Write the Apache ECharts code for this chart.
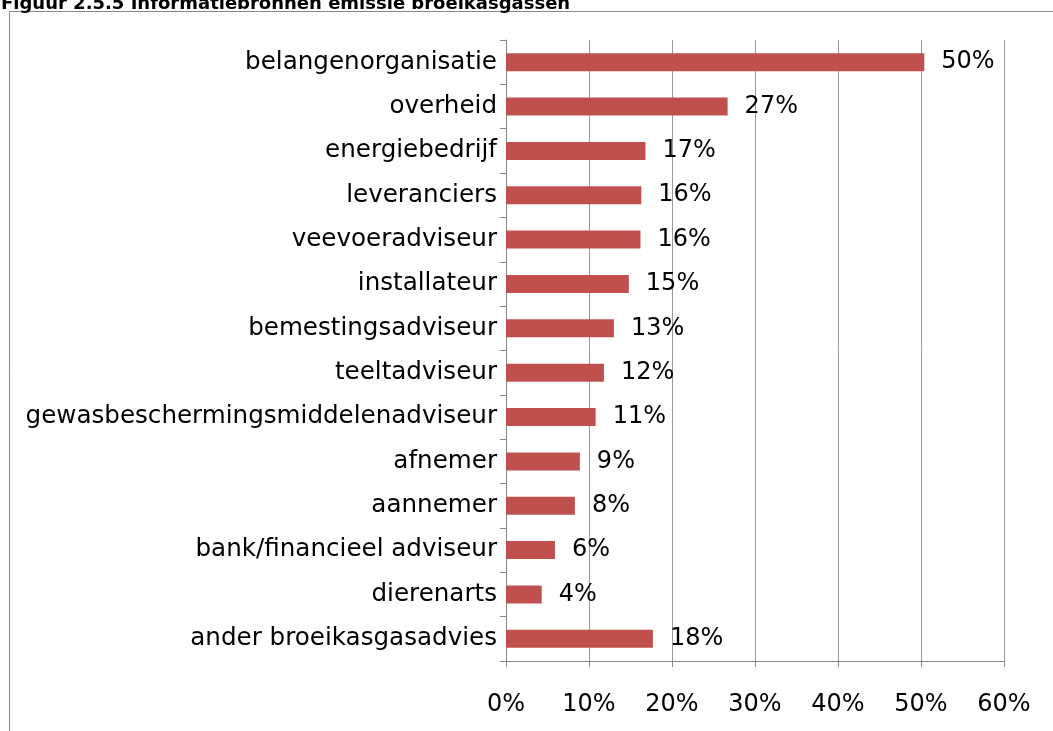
<!DOCTYPE html>
<html>
<head>
<meta charset="utf-8">
<script src="https://cdn.jsdelivr.net/npm/echarts@6/dist/echarts.min.js"></script>
<style>
  html, body { margin: 0; padding: 0; background: #fff; }
  #chart { width: 1053px; height: 731px; }
</style>
</head>
<body>
<div id="chart"></div>
<script>
var titleText = 'Figuur 2.5.5 Informatiebronnen emissie broeikasgassen'
var categories = [
    'belangenorganisatie', 'overheid', 'energiebedrijf', 'leveranciers',
    'veevoeradviseur', 'installateur', 'bemestingsadviseur', 'teeltadviseur',
    'gewasbeschermingsmiddelenadviseur', 'afnemer', 'aannemer',
    'bank/financieel adviseur', 'dierenarts', 'ander broeikasgasadvies'
]
// percentages
var shares = [50.4, 26.7, 16.8, 16.3, 16.2, 14.8, 13.0, 11.8, 10.8, 8.9, 8.3, 5.9, 4.3, 17.7]
var xTicks = [0, 10, 20, 30, 40, 50, 60]

var chart = echarts.init(document.getElementById('chart'))

var options = {
    animation: false,
    textStyle: { fontFamily: 'DejaVu Sans' },
    title: {
        text: titleText,
        left: -4,
        top: -10,
        textStyle: { fontFamily: 'DejaVu Sans', fontSize: 18, fontWeight: 'bold', color: '#000' }
    },
    // frame round the chart, runs off the page on the right and bottom
    graphic: [{
        type: 'rect',
        shape: { x: 9.5, y: 11.5, width: 1100, height: 800 },
        style: { fill: 'none', stroke: '#888', lineWidth: 1 },
        z: -1
    }],
    grid: { left: 506, right: 49, top: 40, bottom: 70, containLabel: false },
    xAxis: {
        type: 'value',
        min: xTicks[0],
        max: xTicks[xTicks.length - 1],
        interval: 10,
        axisLine: { show: true, lineStyle: { color: '#888' } },
        axisTick: { show: true, length: 6, lineStyle: { color: '#888' } },
        splitLine: { show: true, lineStyle: { color: '#999', width: 1 } },
        axisLabel: { formatter: '{value}%', fontSize: 24, color: '#000', margin: 32 }
    },
    yAxis: {
        type: 'category',
        inverse: true,
        data: categories,
        axisLine: { show: true, lineStyle: { color: '#888' } },
        axisTick: { show: true, length: 6, lineStyle: { color: '#888' } },
        axisLabel: { fontSize: 24.6, color: '#000', margin: 9 }
    },
    series: [{
        type: 'bar',
        data: shares,
        barWidth: 18,
        itemStyle: { color: '#C0504D' },
        label: {
            show: true,
            position: 'right',
            distance: 17,
            fontSize: 24,
            color: '#000',
            formatter: function (p) { return Math.round(p.value) + '%' }
        }
    }]
}

chart.setOption(options)
</script>
</body>
</html>
